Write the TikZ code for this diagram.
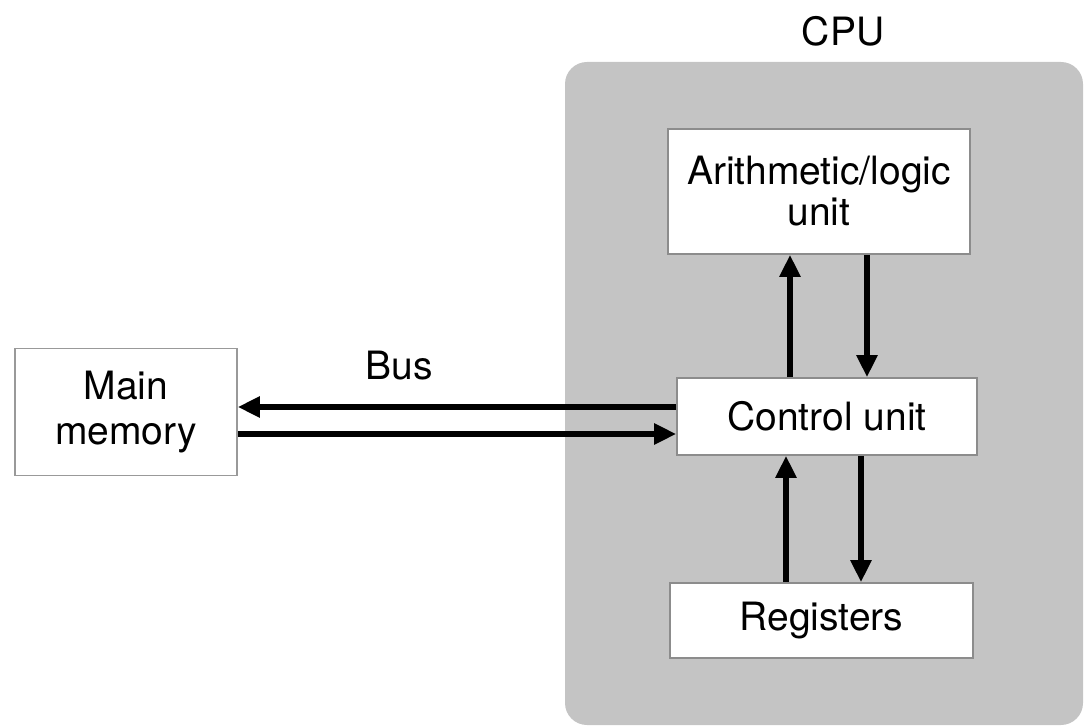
\documentclass[tikz,border=0pt]{standalone}
\usepackage{fontspec}
\setmainfont{TeX Gyre Heros}
\usetikzlibrary{arrows.meta}
\begin{document}
\begin{tikzpicture}[x=1pt,y=-1pt,
  txt/.style={font=\fontsize{39}{41}\selectfont, align=center, inner sep=0pt},
  unitbox/.style={draw=black!45, line width=1.6pt, fill=white, txt},
  bus/.style={line width=6pt, -{Triangle[length=22pt,width=20pt]}},
]
\useasboundingbox (0,0) rectangle (1085,727);

% processor enclosure
\node[fill=black!23, rounded corners=22pt, minimum width=518pt, minimum height=663pt,
      inner sep=0pt] (cpu) at (824,393.5) {};
\node[txt] (cpulabel) at (843,31) {CPU};

% units
\node[unitbox, minimum width=302pt, minimum height=125pt] (alu) at (819,191.5)
  {Arithmetic/logic\\unit};
\node[unitbox, minimum width=300pt, minimum height=77pt] (cu) at (827,416.5)
  {Control unit};
\node[unitbox, minimum width=303pt, minimum height=75pt] (reg) at (821.5,620.5)
  {Registers};

% memory
\node[unitbox, draw=black!40, minimum width=222pt, minimum height=127pt,
      font=\fontsize{39}{45}\selectfont] (mm) at (126,412) {Main\\memory};
\node[txt] (buslabel) at (399,366) {Bus};

% bus lines
\draw[bus] (cu.west |- 0,407) -- (mm.east |- 0,407);
\draw[bus] (mm.east |- 0,434) -- (cu.west |- 0,434);

% control unit <-> ALU
\draw[bus] (cu.north -| 790,0) -- (alu.south -| 790,0);
\draw[bus] (alu.south -| 867,0) -- (cu.north -| 867,0);

% control unit <-> registers
\draw[bus] (reg.north -| 786,0) -- (cu.south -| 786,0);
\draw[bus] (cu.south -| 861,0) -- (reg.north -| 861,0);
\end{tikzpicture}
\end{document}
